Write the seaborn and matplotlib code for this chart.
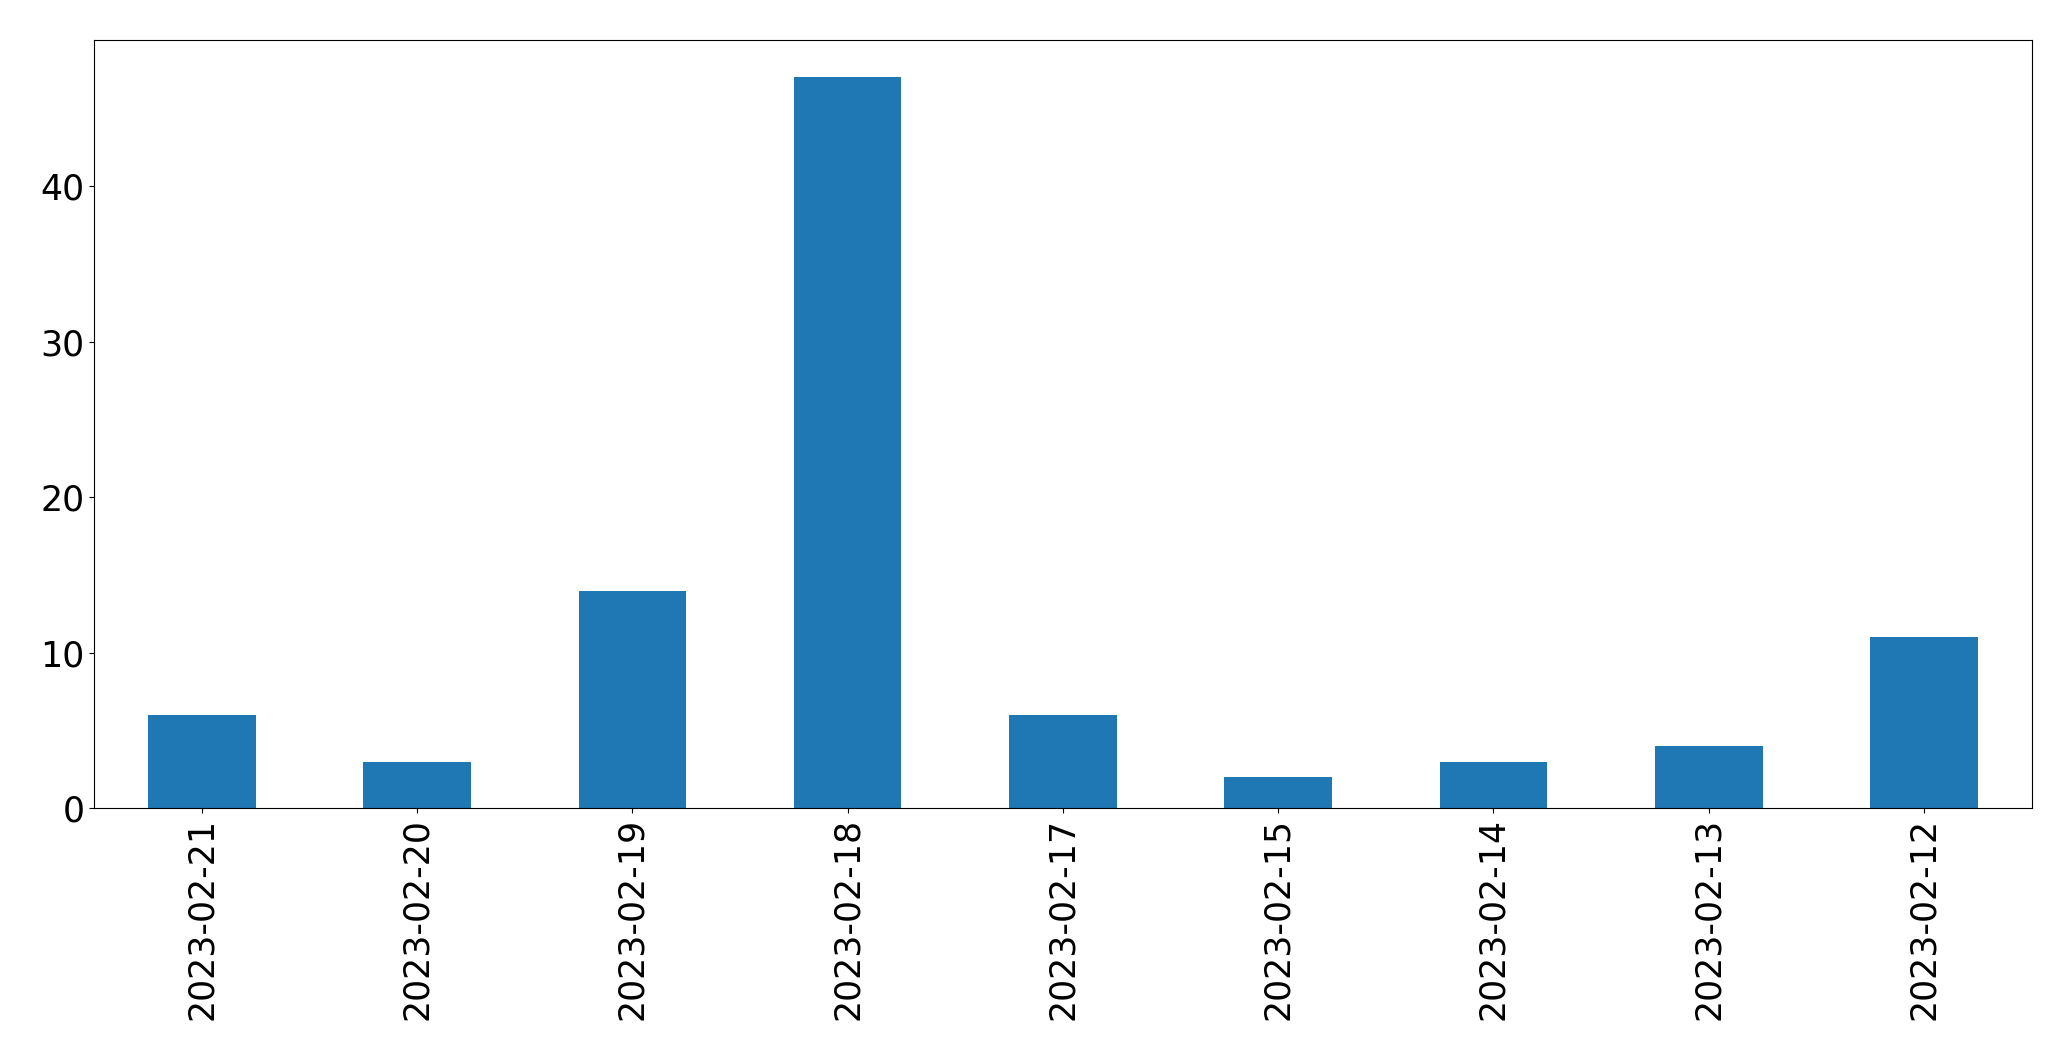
import matplotlib
matplotlib.use('Agg')
import matplotlib.pyplot as plt
import seaborn as sns
import pandas as pd

dates = ['2023-02-21', '2023-02-20', '2023-02-19', '2023-02-18', '2023-02-17',
         '2023-02-15', '2023-02-14', '2023-02-13', '2023-02-12']
counts = [6, 3, 14, 47, 6, 2, 3, 4, 11]

df = pd.DataFrame({'date': dates, 'count': counts})

fig, ax = plt.subplots(figsize=(20.71, 10.61), dpi=100)
sns.barplot(x='date', y='count', data=df, order=dates, color='#1f77b4',
            saturation=1, width=0.5, ax=ax)
ax.set(xlabel='', ylabel='')
ax.set_xlim(-0.5, len(dates) - 0.5)
ax.set_yticks([0, 10, 20, 30, 40])
ax.tick_params(labelsize=25)
plt.xticks(rotation=90)
plt.subplots_adjust(left=0.0455, right=0.981, top=0.962, bottom=0.238)
plt.savefig('out.png')
